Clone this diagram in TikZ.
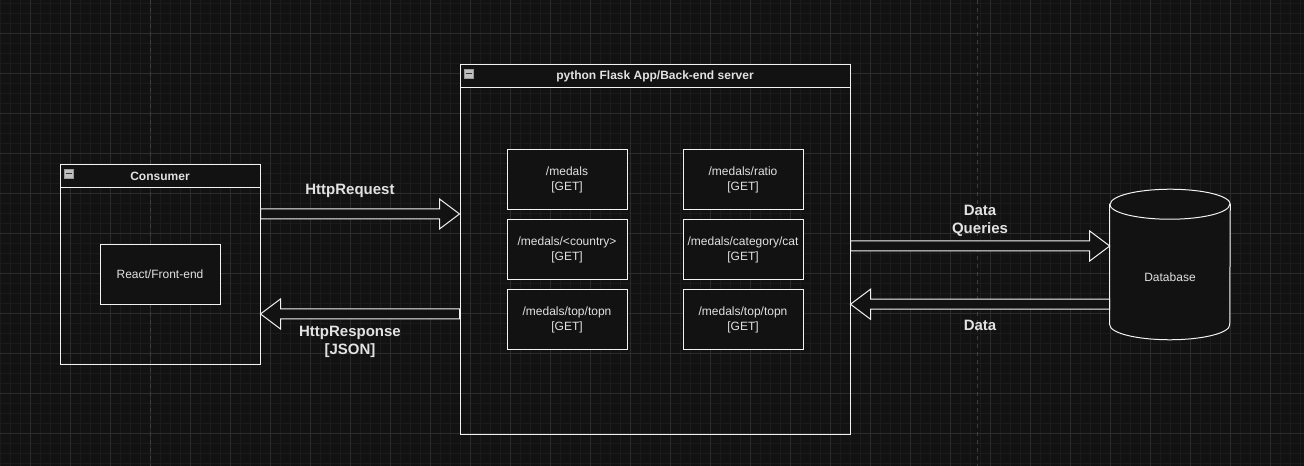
\documentclass[tikz,border=0pt]{standalone}
\usepackage{fontspec}
\setmainfont{Liberation Sans}
\usepackage{tikz}
\usetikzlibrary{positioning}
\usetikzlibrary{calc}
\definecolor{bg}{HTML}{121212}
\definecolor{gridminor}{HTML}{1B1B1B}
\definecolor{gridmajor}{HTML}{2C2C2C}
\definecolor{pagebreak}{HTML}{3E3E3E}
\definecolor{stroke}{HTML}{F2F2F2}
\definecolor{txt}{HTML}{E2E2E2}
\tikzstyle{container}=[draw=stroke,line width=0.75pt,inner sep=0pt]
\tikzstyle{header}=[draw=stroke,fill=bg,line width=0.75pt,minimum height=17.25pt,inner sep=0pt,text=txt,font=\fontsize{9}{11}\selectfont\bfseries]
\tikzstyle{endpoint}=[draw=stroke,fill=bg,line width=0.75pt,minimum width=90pt,minimum height=45pt,inner sep=0pt,align=center,text=txt,font=\fontsize{9}{11.25}\selectfont]
\tikzstyle{minus}=[fill=black!25,draw=black!40,line width=0.4pt,minimum size=6.5pt,inner sep=0pt]
\tikzstyle{flex}=[draw=stroke,fill=bg,line width=0.75pt,line join=miter]
\tikzstyle{weight}=[text=txt,align=center,font=\fontsize{11.25}{13.5}\selectfont\bfseries]

% horizontal block arrow from #1 to #2
\newcommand{\flexarrow}[2]{%
  \draw[flex] let \p1=(#1), \p2=(#2), \n1={sign(\x2-\x1)} in
    (\x1,\y1+3.75pt) -- (\x2-\n1*15pt,\y1+3.75pt) -- (\x2-\n1*15pt,\y1+11.25pt)
    -- (\x2,\y1) -- (\x2-\n1*15pt,\y1-11.25pt) -- (\x2-\n1*15pt,\y1-3.75pt)
    -- (\x1,\y1-3.75pt) -- cycle;}

\begin{document}
\begin{tikzpicture}[x=0.75pt,y=-0.75pt]

%background
    \useasboundingbox[fill=bg] (0,0) rectangle (1304,466);
    \foreach \x in {0,10,...,1300}
        \draw[gridminor,line width=0.75pt] (\x,0) -- (\x,466);
    \foreach \y in {4,14,...,464}
        \draw[gridminor,line width=0.75pt] (0,\y) -- (1304,\y);
    \foreach \x in {30,70,...,1290}
        \draw[gridmajor,line width=0.75pt] (\x,0) -- (\x,466);
    \foreach \y in {34,74,...,434}
        \draw[gridmajor,line width=0.75pt] (0,\y) -- (1304,\y);
    \foreach \x in {150,977}
        \draw[pagebreak,line width=0.75pt,dash pattern=on 3pt off 3pt] (\x,0) -- (\x,466);

%containers
    \node[container,minimum width=150pt,minimum height=150pt] (consumer) at (160,264.5) {};
    \node[header,minimum width=150pt,anchor=north] (conshead) at (consumer.north) {Consumer};
    \node[minus] (consicon) at ($(conshead.west)+(9.5,-2.5)$) {};
    \draw[black!80,line width=0.9pt] ($(consicon.center)+(-2.6,0)$) -- ($(consicon.center)+(2.6,0)$);
    \node[endpoint] (react) at (160,274.5) {React/Front-end};

    \node[container,minimum width=292.5pt,minimum height=277.5pt] (flask) at (655,249.5) {};
    \node[header,minimum width=292.5pt,anchor=north] (flaskhead) at (flask.north) {python Flask App/Back-end server};
    \node[minus] (flaskicon) at ($(flaskhead.west)+(9.5,-2.5)$) {};
    \draw[black!80,line width=0.9pt] ($(flaskicon.center)+(-2.6,0)$) -- ($(flaskicon.center)+(2.6,0)$);

    \foreach \pos/\name/\route in {{(567,180)/medals/{/medals}}, {(567,250)/country/{/medals/<country>}}, {(567,320)/topa/{/medals/top/topn}},
                                   {(743,180)/ratio/{/medals/ratio}}, {(743,250)/category/{/medals/category/cat}}, {(743,320)/topb/{/medals/top/topn}}}
        \node[endpoint] (\name) at \pos {\route\\{}[GET]};

%database
    \node[inner sep=0pt,minimum width=90pt,minimum height=112.5pt] (db) at (1170,264.5) {};
    \draw[flex] ($(db.north west)+(0,15)$) -- ($(db.south west)+(0,-15)$)
        arc[start angle=180,end angle=360,x radius=45pt,y radius=11.25pt]
        -- ($(db.north east)+(0,15)$)
        arc[start angle=0,end angle=180,x radius=45pt,y radius=11.25pt] -- cycle;
    \draw[draw=stroke,line width=0.75pt] ($(db.north west)+(0,15)$)
        arc[start angle=180,end angle=360,x radius=45pt,y radius=11.25pt];
    \node[text=txt,font=\fontsize{9}{11}\selectfont] (dblabel) at ($(db.center)+(0,13)$) {Database};

%arrows
    \coordinate (req) at ($(consumer.north east)+(0,50)$);
    \coordinate (resp) at ($(flask.north west)+(0,250)$);
    \coordinate (qry) at ($(flask.north east)+(0,182)$);
    \coordinate (dat) at ($(db.north west)+(0,115)$);
    \flexarrow{req}{req -| flask.west}
    \flexarrow{resp}{resp -| consumer.east}
    \flexarrow{qry}{qry -| db.west}
    \flexarrow{dat}{dat -| flask.east}

    \node[weight,anchor=base] (reqlabel) at (350,195) {HttpRequest};
    \node[weight,anchor=base] (resplabel) at (350,355) {HttpResponse\\{}[JSON]};
    \node[weight,anchor=base] (qrylabel) at (980,234) {Data\\Queries};
    \node[weight,anchor=base] (datlabel) at (980,331) {Data};

\end{tikzpicture}
\end{document}
